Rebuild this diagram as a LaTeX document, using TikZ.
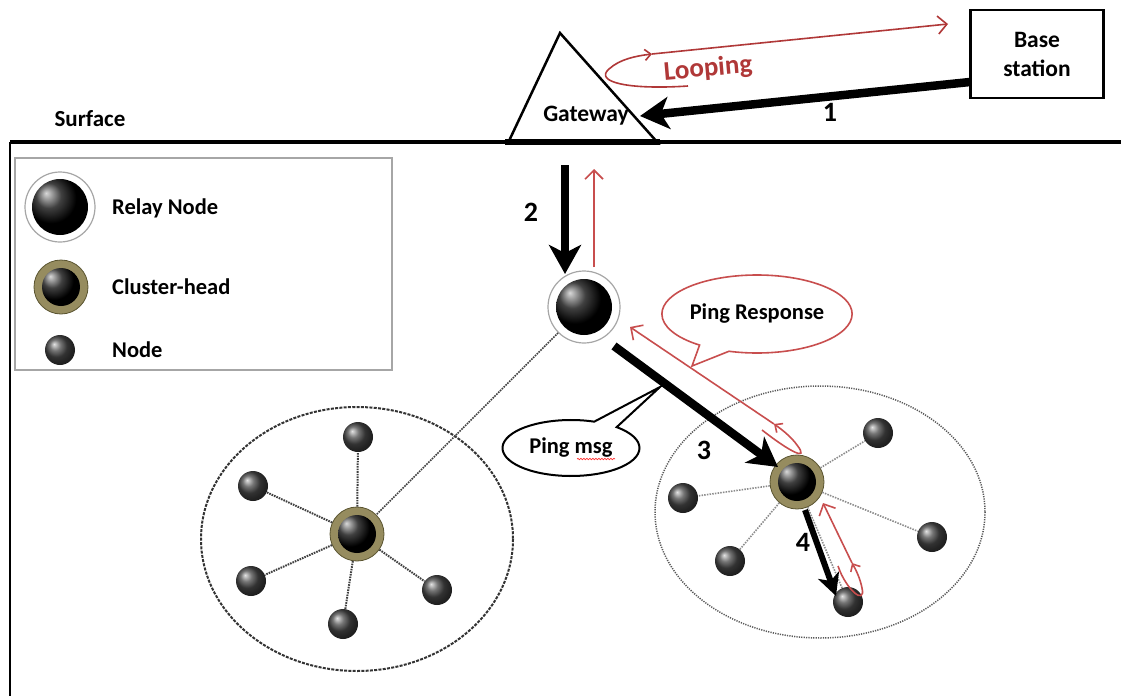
\documentclass[tikz,border=0pt]{standalone}
\usepackage{fontspec}
\setmainfont{Carlito}
\usetikzlibrary{arrows.meta,shapes.callouts,calc,decorations.pathmorphing}
\definecolor{pingred}{RGB}{200,78,78}
\definecolor{loopred}{RGB}{176,56,56}
\definecolor{ringcol}{RGB}{150,140,95}
\definecolor{ringdark}{RGB}{90,84,48}
\begin{document}
\begin{tikzpicture}[x=1pt,y=-1pt,
  txt/.style={font=\fontsize{22.5}{26}\selectfont\bfseries, inner sep=0pt},
  num/.style={font=\fontsize{28}{30}\selectfont\bfseries, inner sep=0pt},
  relaynode/.style={circle, draw=gray!70, line width=1.2pt, fill=white,
    minimum size=70pt, inner sep=0pt,
    path picture={\shade[ball color=black] (path picture bounding box.center) circle[radius=28pt];}},
  headnode/.style={circle, draw=ringdark, line width=0.8pt, fill=ringcol,
    minimum size=54pt, inner sep=0pt,
    path picture={\shade[ball color=black] (path picture bounding box.center) circle[radius=19pt];}},
  plainnode/.style={circle, minimum size=30pt, inner sep=0pt,
    shading=ball, ball color=black!72},
  bigarrow/.style={line width=8.5pt, -{Stealth[length=29pt,width=32pt,inset=8pt]}},
  midarrow/.style={line width=6pt, -{Stealth[length=22pt,width=22pt,inset=6pt]}},
  redarrow/.style={draw=pingred, line width=1.6pt, -{Straight Barb[length=9pt,width=18pt]}},
  redtick/.style={draw=pingred, line width=1.6pt, -{Straight Barb[length=6pt,width=11pt]}},
  darkspoke/.style={draw=black!75, line width=2pt, dash pattern=on 1.6pt off 1pt},
  lightspoke/.style={draw=black!45, line width=1.6pt, dash pattern=on 1.5pt off 1.2pt},
]
% canvas
\useasboundingbox (0,0) rectangle (1121,696);
\fill[white] (0,0) rectangle (1121,696);

% ground line and left border
\draw[line width=3.5pt] (10,142) -- (1121,142);
\draw[line width=1.5pt] (10,142) -- (10,696);
\node[font=\fontsize{23}{26}\selectfont\bfseries, inner sep=0pt] (surface) at (90,119) {Surface};

% gateway triangle
\draw[line width=2.5pt, line join=miter] (508,143) -- (560,33) -- (658,143) -- cycle;
\draw[line width=5.5pt] (505,142) -- (660,142);
\node[font=\fontsize{23.5}{26}\selectfont\bfseries, inner sep=0pt] (gw) at (586,116) {Gateway};
\coordinate (gwin) at (640,116);

% base station
\node[draw, line width=2.5pt, minimum width=133pt, minimum height=88pt,
  align=center, font=\fontsize{23.5}{29}\selectfont\bfseries] (bs) at (1037,54) {Base\\station};
\coordinate (bsout) at (970,82);
\coordinate (bsin) at (948,24);

% legend
\draw[draw=gray!70, line width=1.2pt] (15,158) rectangle (392,370);
\node[relaynode] (lrelay) at (60,207) {};
\node[txt, anchor=west] (lrelayt) at (112,208) {Relay Node};
\node[headnode] (lhead) at (61,287) {};
\node[txt, anchor=west] (lheadt) at (112,287) {Cluster-head};
\node[plainnode] (lnode) at (60,350) {};
\node[txt, anchor=west] (lnodet) at (112,350) {Node};

% clusters
\draw[draw=black!80, line width=2pt, dash pattern=on 3pt off 1.3pt] (357,539) ellipse[x radius=156, y radius=132];
\draw[draw=black!65, line width=1.5pt, dash pattern=on 1.2pt off 1.2pt] (820,512) ellipse[x radius=165, y radius=126];

% relay node
\node[relaynode, minimum size=72pt] (relay) at (584,307) {};

% left cluster
\node[headnode] (ch1) at (357,534) {};
\node[plainnode] (a1) at (358,437) {};
\node[plainnode] (a2) at (253,486) {};
\node[plainnode] (a3) at (251,581) {};
\node[plainnode] (a4) at (343,624) {};
\node[plainnode] (a5) at (437,590) {};

% right cluster
\node[headnode] (ch2) at (797,482) {};
\node[plainnode] (b1) at (878,433) {};
\node[plainnode] (b2) at (683,498) {};
\node[plainnode] (b3) at (932,537) {};
\node[plainnode] (b4) at (730,561) {};
\node[plainnode] (b5) at (848,602) {};

% links between nodes
\foreach \n in {a1,a2,a3,a4,a5} \draw[darkspoke] (ch1) -- (\n);
\draw[darkspoke, line width=1.6pt] (relay) -- (ch1);
\foreach \n in {b1,b2,b3,b4,b5} \draw[lightspoke] (ch2) -- (\n);

% step 1: base station -> gateway
\draw[bigarrow] (bsout) -- (gwin);
\node[num] (n1) at (830,112) {1};

% looping from gateway to base station
\coordinate (lpstart) at (688,86);
\coordinate (lpmid) at (652,54);
\draw[draw=loopred, line width=1.6pt, -{Straight Barb[length=6pt,width=11pt]}]
  (lpstart) .. controls (628,90) and (594,82) .. (609,69) .. controls (620,59) and (636,56) .. (lpmid);
\draw[draw=loopred, line width=1.6pt, -{Straight Barb[length=9pt,width=18pt]}] (lpmid) -- (bsin);
\node[font=\fontsize{27}{30}\selectfont\bfseries, text=loopred, rotate=5, inner sep=0pt] (loop) at (708,69) {Looping};

% step 2: gateway -> relay node, and the reply
\coordinate (g2s) at (565,165);
\coordinate (g2e) at (565,274);
\draw[bigarrow, line width=8pt] (g2s) -- (g2e);
\node[num] (n2) at (531,212) {2};
\coordinate (r2s) at (594,267);
\coordinate (r2e) at (594,169);
\draw[redarrow] (r2s) -- (r2e);

% step 3: relay node -> cluster-head, and the ping response
\coordinate (p3s) at (614,346);
\coordinate (p3e) at (778,467);
\draw[bigarrow] (p3s) -- (p3e);
\node[num] (n3) at (704,450) {3};
\coordinate (rt) at (630,327);
\coordinate (rm) at (774,424);
\draw[redtick] (762,430) .. controls (790,452) and (810,462) .. (797,445) .. controls (792,438) and (784,431) .. (rm);
\draw[redarrow] (rm) -- (rt);

% step 4: cluster-head -> node
\coordinate (p4s) at (805,510);
\coordinate (p4e) at (836,596);
\draw[midarrow] (p4s) -- (p4e);
\node[num] (n4) at (803,542) {4};
\coordinate (q4t) at (823,503);
\coordinate (q4m) at (852,563);
\draw[redtick] (838,566) .. controls (846,590) and (866,606) .. (862,588) .. controls (860,578) and (856,570) .. (q4m);
\draw[redarrow] (q4m) -- (q4t);

% callouts
\coordinate (resptip) at (692,366);
\node[ellipse callout, draw=pingred, line width=1.6pt, fill=white,
  minimum width=156pt, minimum height=78pt, inner sep=0pt,
  callout absolute pointer={(resptip)}, callout pointer arc=20, txt] (resp) at (757,314) {Ping Response};
\coordinate (msgtip) at (660,387);
\node[ellipse callout, draw=black, line width=2pt, fill=white,
  minimum width=137pt, minimum height=56pt, inner sep=0pt,
  callout absolute pointer={(msgtip)}, callout pointer arc=22, txt] (msg) at (571,448) {Ping msg};
\draw[red!80, line width=0.7pt, decorate, decoration={snake, amplitude=0.7pt, segment length=3pt}]
  ($(msg.center)+(6,11)$) -- ($(msg.center)+(44,11)$);
\end{tikzpicture}
\end{document}
